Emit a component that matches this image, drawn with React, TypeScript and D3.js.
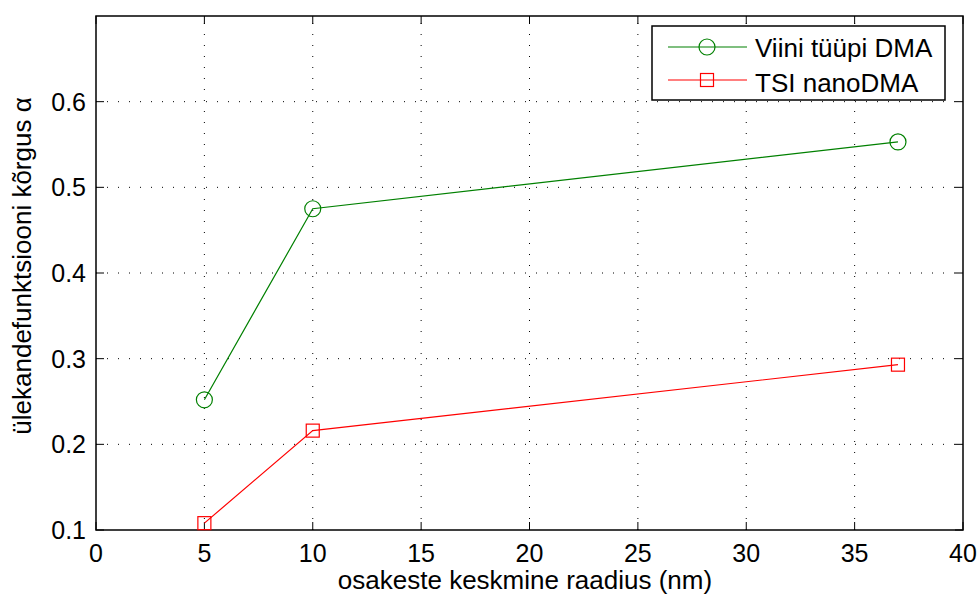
import React from 'react';
import * as d3 from 'd3';

const radii = [5, 10, 37];
const viiniAlpha = [0.252, 0.475, 0.553];
const tsiAlpha = [0.108, 0.216, 0.293];
const xTicks = [0, 5, 10, 15, 20, 25, 30, 35, 40];
const yTicks = [0.1, 0.2, 0.3, 0.4, 0.5, 0.6];
const legendLabels = ['Viini tüüpi DMA', 'TSI nanoDMA'];

const W = 979;
const H = 596;
const margin = { left: 96, top: 16, right: 16, bottom: 66 };
const font = 'Liberation Sans, Arial, Helvetica, sans-serif';

export default function App() {
  const x = d3.scaleLinear().domain([0, 40]).range([margin.left, W - margin.right]);
  const y = d3.scaleLinear().domain([0.1, 0.7]).range([H - margin.bottom, margin.top]);
  const line = d3
    .line<number>()
    .x((_, i) => x(radii[i]))
    .y((v) => y(v));

  const green = '#008000';
  const red = '#ff0000';
  const x0 = x(0);
  const x1 = x(40);
  const y0 = y(0.1);
  const y1 = y(0.7);
  const tick = 8;

  return (
    <svg width={W} height={H} style={{ position: 'absolute', left: 0, top: 0, background: '#fff' }}>
      <rect x={0} y={0} width={W} height={H} fill="#fff" />
      {/* grid */}
      {xTicks.slice(1, -1).map((t) => (
        <line key={`gx${t}`} x1={x(t)} x2={x(t)} y1={y0} y2={y1} stroke="#000" strokeWidth={1} strokeDasharray="1,10" />
      ))}
      {yTicks.slice(1).map((t) => (
        <line key={`gy${t}`} x1={x0} x2={x1} y1={y(t)} y2={y(t)} stroke="#000" strokeWidth={1} strokeDasharray="1,10" />
      ))}
      {/* ticks */}
      {xTicks.map((t) => (
        <g key={`tx${t}`}>
          <line x1={x(t)} x2={x(t)} y1={y0} y2={y0 - tick} stroke="#000" />
          <line x1={x(t)} x2={x(t)} y1={y1} y2={y1 + tick} stroke="#000" />
          <text x={x(t)} y={562} textAnchor="middle" fontFamily={font} fontSize={25}>
            {t}
          </text>
        </g>
      ))}
      {yTicks.map((t) => (
        <g key={`ty${t}`}>
          <line x1={x0} x2={x0 + tick} y1={y(t)} y2={y(t)} stroke="#000" />
          <line x1={x1} x2={x1 - tick} y1={y(t)} y2={y(t)} stroke="#000" />
          <text x={86} y={y(t) + 9} textAnchor="end" fontFamily={font} fontSize={25}>
            {t.toFixed(1)}
          </text>
        </g>
      ))}
      <rect x={x0} y={y1} width={x1 - x0} height={y0 - y1} fill="none" stroke="#000" strokeWidth={1.5} />

      {/* series */}
      <path d={line(viiniAlpha) || ''} fill="none" stroke={green} strokeWidth={1.2} />
      {viiniAlpha.map((v, i) => (
        <circle key={`c${i}`} cx={x(radii[i])} cy={y(v)} r={8} fill="none" stroke={green} strokeWidth={1.2} />
      ))}
      <path d={line(tsiAlpha) || ''} fill="none" stroke={red} strokeWidth={1.2} />
      {tsiAlpha.map((v, i) => (
        <rect key={`s${i}`} x={x(radii[i]) - 6.5} y={y(v) - 6.5} width={13} height={13} fill="none" stroke={red} strokeWidth={1.2} />
      ))}

      {/* legend */}
      <rect x={652} y={26} width={293} height={74} fill="#fff" stroke="#000" strokeWidth={1.5} />
      <line x1={668} x2={747} y1={47} y2={47} stroke={green} strokeWidth={1.2} />
      <circle cx={707} cy={47} r={8} fill="none" stroke={green} strokeWidth={1.2} />
      <text x={755} y={57} fontFamily={font} fontSize={26}>{legendLabels[0]}</text>
      <line x1={668} x2={747} y1={80} y2={80} stroke={red} strokeWidth={1.2} />
      <rect x={700.5} y={73.5} width={13} height={13} fill="none" stroke={red} strokeWidth={1.2} />
      <text x={755} y={92} fontFamily={font} fontSize={26}>{legendLabels[1]}</text>

      {/* axis labels */}
      <text x={525} y={589} textAnchor="middle" fontFamily={font} fontSize={26}>
        osakeste keskmine raadius (nm)
      </text>
      <text
        transform={`translate(31, 266) rotate(-90)`}
        textAnchor="middle"
        fontFamily={font}
        fontSize={26}
      >
        ülekandefunktsiooni kõrgus α
      </text>
    </svg>
  );
}
